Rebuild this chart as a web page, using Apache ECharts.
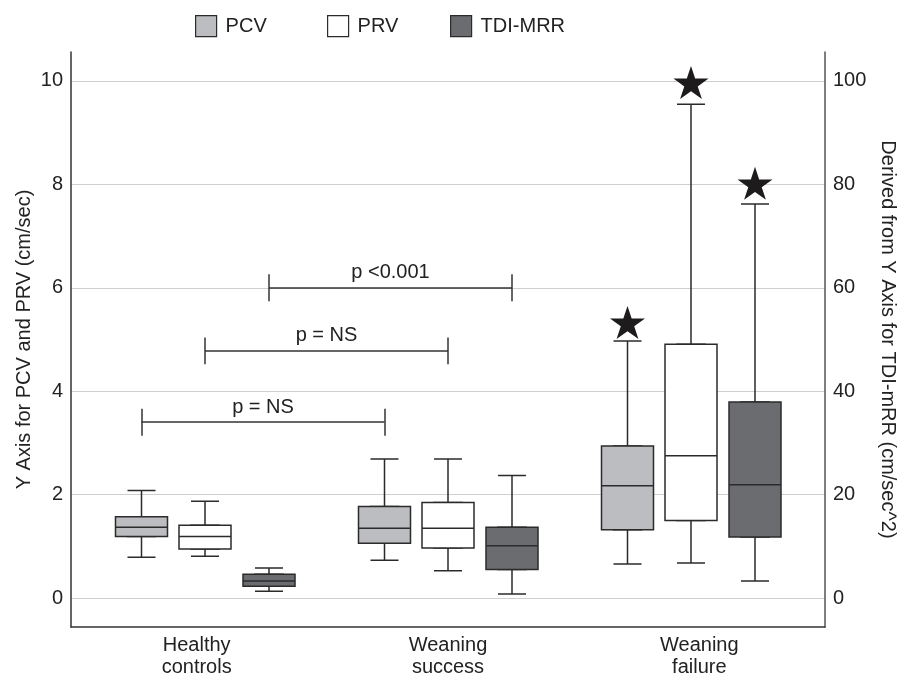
<!DOCTYPE html>
<html>
<head>
<meta charset="utf-8">
<script src="https://cdn.jsdelivr.net/npm/echarts@6/dist/echarts.min.js"></script>
<style>
  html, body { margin: 0; padding: 0; background: #fff; overflow: hidden; }
  #chart { position: fixed; left: 0; top: 0; width: 100vw; height: 100vh; }
</style>
</head>
<body>
<div id="chart"></div>
<script>
const categories = ['Healthy\ncontrols', 'Weaning\nsuccess', 'Weaning\nfailure'];
const seriesNames = ['PCV', 'PRV', 'TDI-MRR'];

// [min, Q1, median, Q3, max] per category
const pcvBoxes = [
    [0.79, 1.19, 1.37, 1.57, 2.08],
    [0.73, 1.06, 1.35, 1.77, 2.69],
    [0.66, 1.32, 2.17, 2.94, 4.97],
];
const prvBoxes = [
    [0.81, 0.95, 1.19, 1.41, 1.87],
    [0.53, 0.97, 1.35, 1.85, 2.69],
    [0.68, 1.50, 2.75, 4.91, 9.55],
];
// TDI-MRR is read on the right axis (cm/sec^2)
const tdiBoxes = [
    [1.3, 2.3, 3.3, 4.6, 5.8],
    [0.8, 5.5, 10.1, 13.7, 23.7],
    [3.3, 11.8, 21.9, 37.9, 76.2],
];
// stars above the "Weaning failure" boxes
const starValues = [5.33, 9.97, 80.2];
// brackets between Healthy controls and Weaning success, one per series
const bracketLabels = ['p = NS', 'p = NS', 'p <0.001'];
const bracketValues = [3.4, 4.78, 60];
const bracketTick = [0.26, 0.26, 2.6];

const leftRange = [-0.56, 10.56];
const rightRange = [-5.6, 105.6];

const fills = ['#bcbdc0', '#ffffff', '#6b6c70'];
const edge = '#2b2b2b';
const textColor = '#222';
const fontFamily = 'Liberation Sans, Arial, sans-serif';

const allBoxes = [pcvBoxes, prvBoxes, tdiBoxes];
// horizontal layout of the three per-series grids
const gridLefts = [20, 83.5, 147.5];
const legendLefts = [195, 327, 450];

const chart = echarts.init(document.getElementById('chart'));

const grid = [{ left: 71, right: 72, top: 52, bottom: 47, containLabel: false, outerBoundsMode: 'none' }];
const xAxis = [{
    type: 'category',
    gridIndex: 0,
    data: categories,
    axisLine: { onZero: false, lineStyle: { color: '#333', width: 1.5 } },
    axisTick: { show: false },
    axisLabel: { fontSize: 20, color: textColor, lineHeight: 22, margin: 7, fontFamily },
    splitLine: { show: false },
}];
const yAxis = [
    {
        type: 'value',
        gridIndex: 0,
        min: leftRange[0],
        max: leftRange[1],
        splitNumber: 5,
        name: 'Y Axis for PCV and PRV (cm/sec)',
        nameLocation: 'middle',
        nameGap: 37,
        nameMoveOverlap: false,
        nameTextStyle: { fontSize: 20, color: textColor, fontFamily },
        axisLine: { show: true, onZero: false, lineStyle: { color: '#333', width: 1.5 } },
        axisTick: { show: false },
        axisLabel: { fontSize: 20, color: textColor, margin: 8, showMinLabel: false, showMaxLabel: false, fontFamily },
        splitLine: { show: true, showMinLine: false, showMaxLine: false, lineStyle: { color: '#cfcfcf', width: 1 } },
    },
    {
        type: 'value',
        gridIndex: 0,
        position: 'right',
        min: rightRange[0],
        max: rightRange[1],
        splitNumber: 5,
        name: 'Derived from Y Axis for TDI-mRR (cm/sec^2)',
        nameLocation: 'middle',
        nameRotate: -90,
        nameGap: 50,
        nameTextStyle: { fontSize: 20, color: textColor, fontFamily },
        axisLine: { show: true, onZero: false, lineStyle: { color: '#555', width: 1.5 } },
        axisTick: { show: false },
        axisLabel: { fontSize: 20, color: textColor, margin: 8, showMinLabel: false, showMaxLabel: false, fontFamily },
        splitLine: { show: false },
    },
];

const series = [];
const starPath = 'path://M50,2L61.8,38.2H99.5L69,60.6L80.9,96.9L50,74.5L19.1,96.9L31,60.6L0.5,38.2H38.2Z';

seriesNames.forEach((name, s) => {
    const g = s + 1;
    grid.push({ left: gridLefts[s], width: 729, top: 52, bottom: 47, containLabel: false, outerBoundsMode: 'none' });
    const whiskerAxis = xAxis.length;
    for (let k = 0; k < 2; k++) {
        xAxis.push({ type: 'category', gridIndex: g, data: categories, show: false });
    }
    const boxAxis = whiskerAxis + 1;
    const yIdx = yAxis.length;
    const range = s === 2 ? rightRange : leftRange;
    yAxis.push({ type: 'value', gridIndex: g, min: range[0], max: range[1], show: false, splitLine: { show: false } });

    const boxes = allBoxes[s];
    // whiskers with short caps
    series.push({
        name: name + ' whiskers',
        type: 'boxplot',
        xAxisIndex: whiskerAxis,
        yAxisIndex: yIdx,
        boxWidth: [28, 28],
        silent: true,
        z: 2,
        itemStyle: { color: 'rgba(0,0,0,0)', borderColor: edge, borderWidth: 1.5 },
        emphasis: { disabled: true },
        data: boxes,
    });
    // wide box with median
    series.push({
        name: name,
        type: 'boxplot',
        xAxisIndex: boxAxis,
        yAxisIndex: yIdx,
        boxWidth: [52, 52],
        silent: true,
        z: 3,
        itemStyle: { color: fills[s], borderColor: edge, borderWidth: 1.5 },
        emphasis: { disabled: true },
        data: boxes.map(b => [b[1], b[1], b[2], b[3], b[3]]),
    });
    // star and significance bracket
    const y = bracketValues[s];
    const t = bracketTick[s];
    series.push({
        name: name + ' star',
        type: 'scatter',
        xAxisIndex: boxAxis,
        yAxisIndex: yIdx,
        symbol: starPath,
        symbolSize: [35, 33],
        silent: true,
        z: 4,
        itemStyle: { color: '#1e1b1c', opacity: 1 },
        data: [[categories[2], starValues[s]]],
        markLine: {
            silent: true,
            symbol: ['none', 'none'],
            animation: false,
            lineStyle: { color: '#333', width: 1.5, type: 'solid', opacity: 1 },
            label: { show: false },
            emphasis: { disabled: true },
            data: [
                [
                    {
                        coord: [categories[0], y],
                        label: {
                            show: true,
                            position: 'insideMiddleTop',
                            formatter: bracketLabels[s],
                            fontSize: 20,
                            color: textColor,
                            distance: 5,
                            fontFamily,
                        },
                    },
                    { coord: [categories[1], y] },
                ],
                [{ coord: [categories[0], y - t] }, { coord: [categories[0], y + t] }],
                [{ coord: [categories[1], y - t] }, { coord: [categories[1], y + t] }],
            ],
        },
    });
});

const legend = seriesNames.map((name, s) => ({
    data: [{
        name,
        itemStyle: { color: fills[s], borderColor: edge, borderWidth: 1.2 },
    }],
    left: legendLefts[s],
    top: 15,
    padding: 0,
    icon: 'rect',
    itemWidth: 21,
    itemHeight: 21,
    itemGap: 0,
    selectedMode: false,
    textStyle: { fontSize: 20, color: textColor, fontFamily, padding: [0, 0, 0, 4] },
}));

chart.setOption({
    animation: false,
    backgroundColor: '#fff',
    textStyle: { fontFamily },
    legend,
    grid,
    xAxis,
    yAxis,
    series,
});
</script>
</body>
</html>
